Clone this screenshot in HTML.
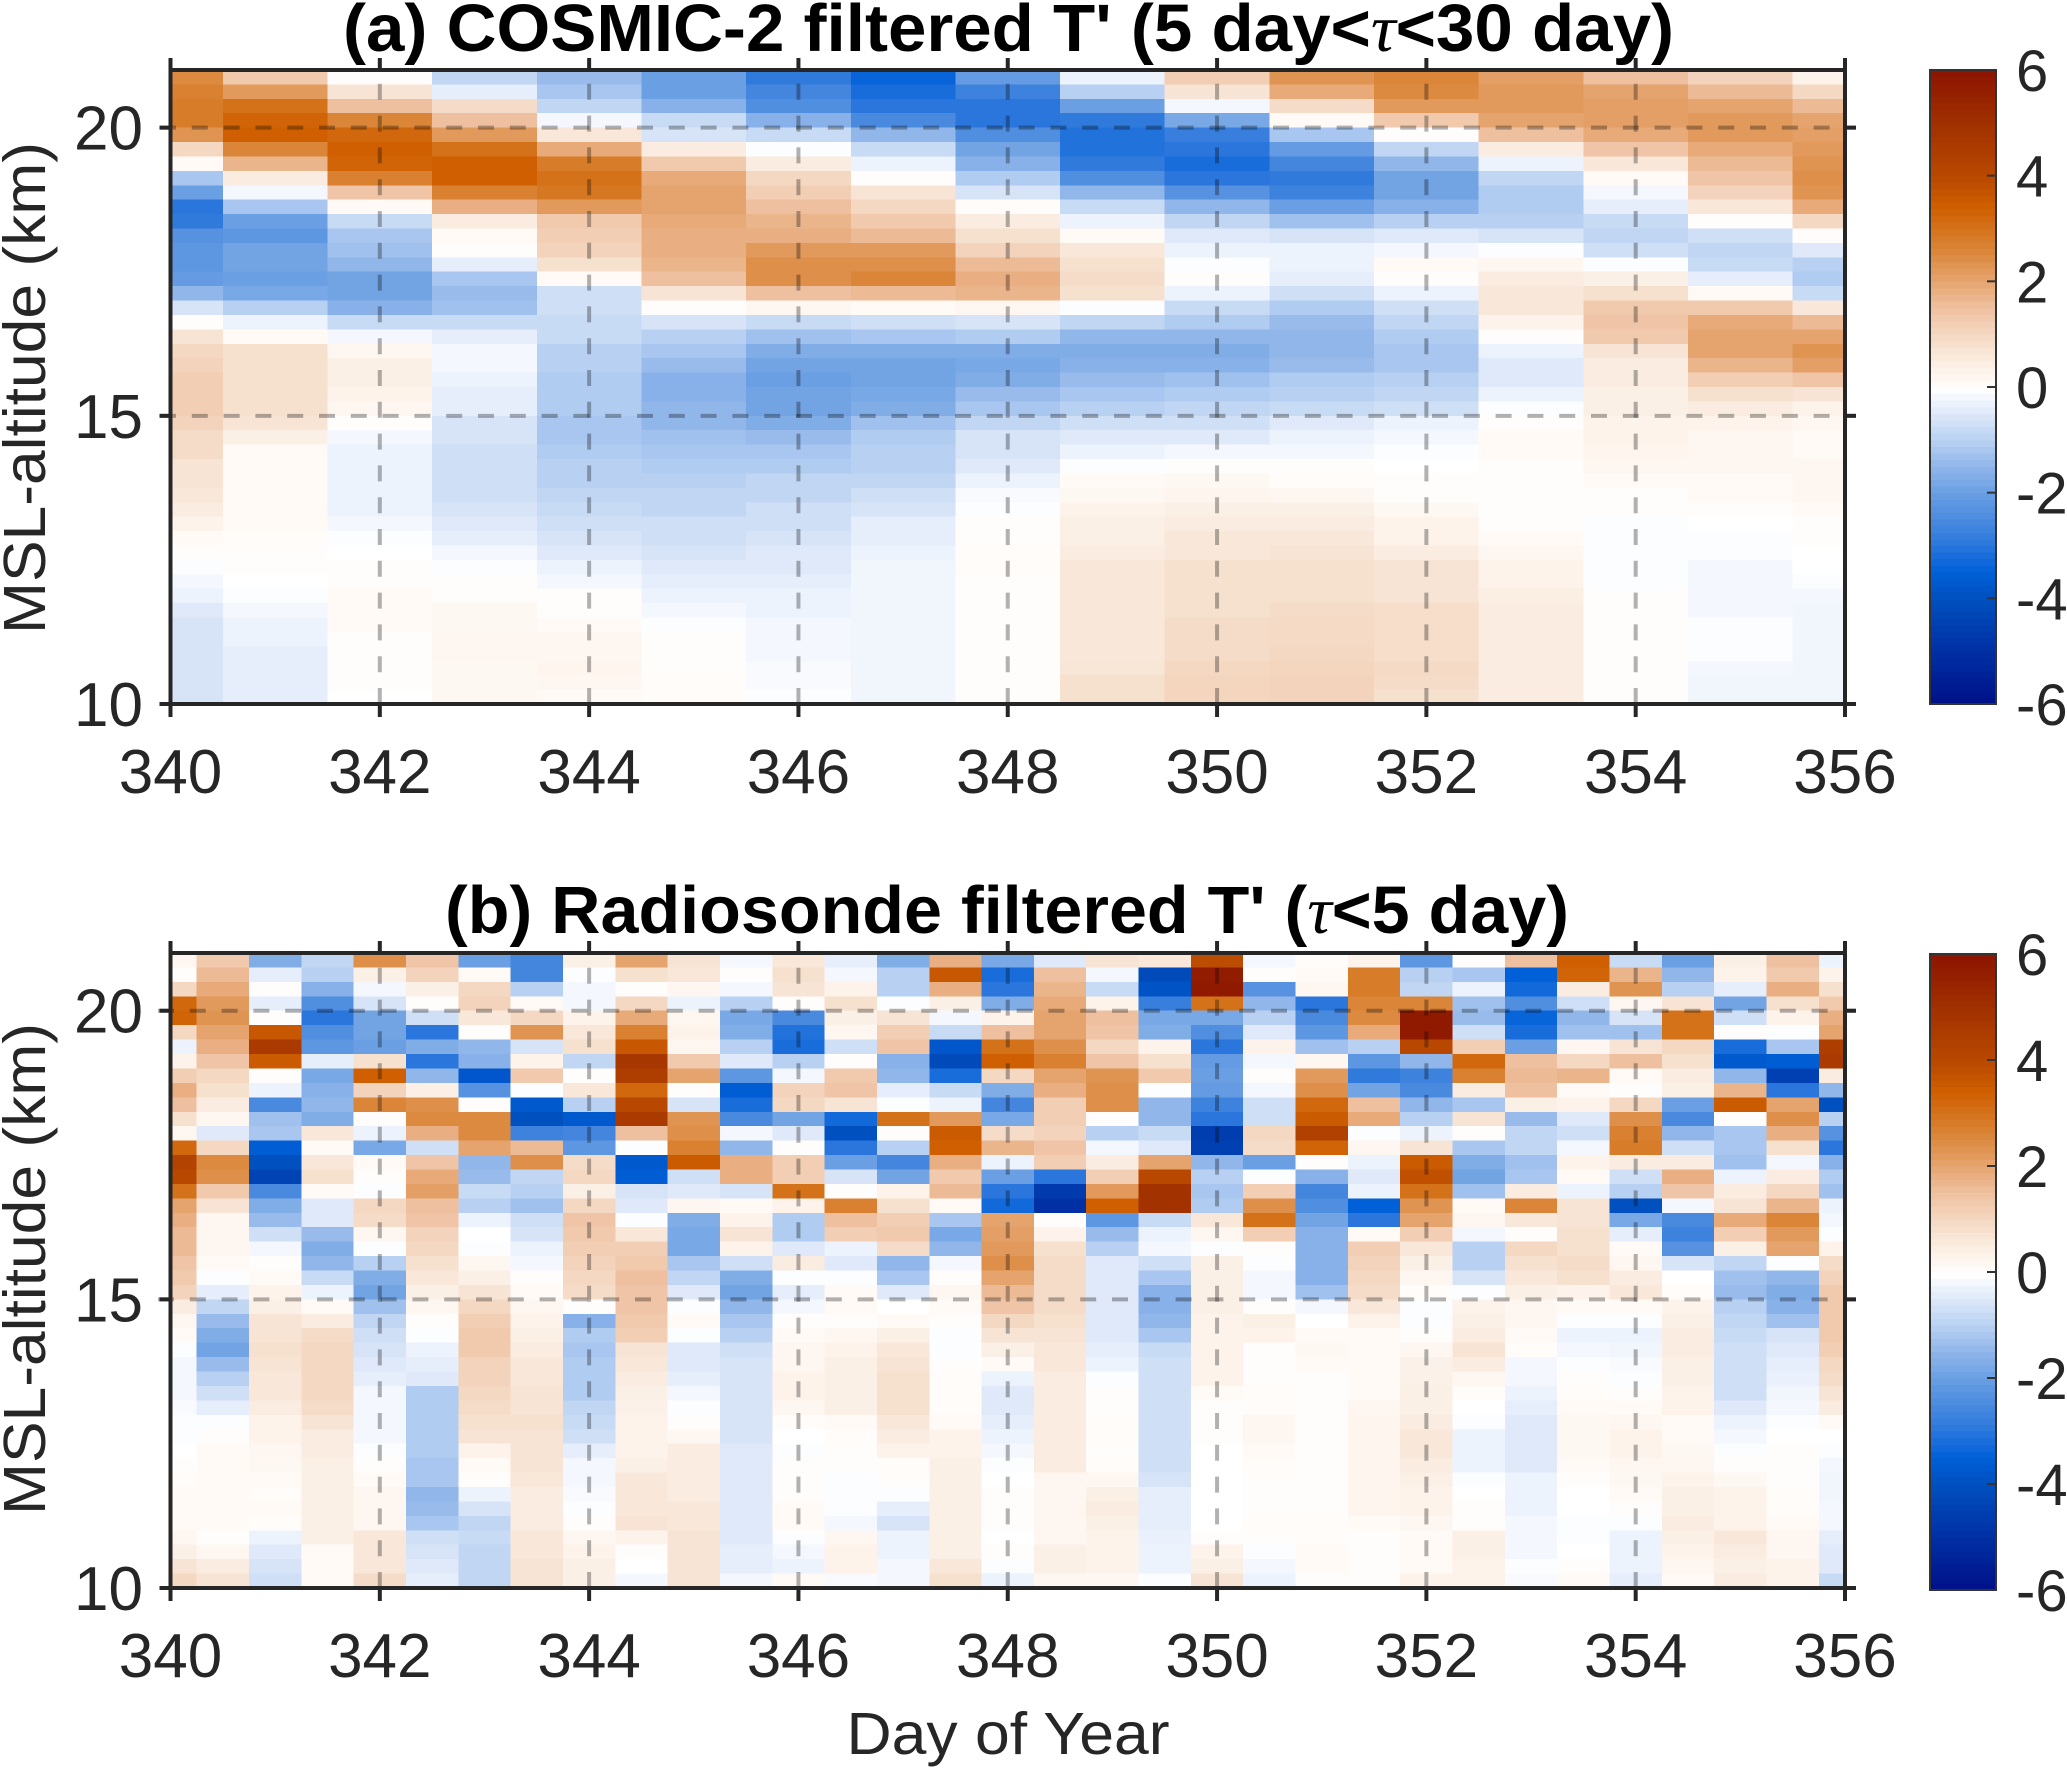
<!DOCTYPE html>
<html lang="en">
<head>
<meta charset="utf-8">
<title>COSMIC-2 and radiosonde filtered temperature perturbations</title>
<style>
html,body{margin:0;padding:0;background:#fff;width:2067px;height:1768px;overflow:hidden}
svg{display:block;font-family:"Liberation Sans",Arial,sans-serif}
</style>
</head>
<body>
<svg id="figure" xmlns="http://www.w3.org/2000/svg" width="2067" height="1768" viewBox="0 0 2067 1768">
  <g id="cells-a" shape-rendering="crispEdges"></g>
  <g id="cells-b" shape-rendering="crispEdges"></g>
  <g id="overlay"></g>
  <text x="343" y="51" font-size="67" font-weight="bold" fill="#000" textLength="1331" lengthAdjust="spacingAndGlyphs">(a) COSMIC-2 filtered T' (5 day&lt;<tspan font-family="Liberation Serif" font-style="italic" font-weight="normal">τ</tspan>&lt;30 day)</text>
  <text x="445" y="933" font-size="67" font-weight="bold" fill="#000" textLength="1124" lengthAdjust="spacingAndGlyphs">(b) Radiosonde filtered T' (<tspan font-family="Liberation Serif" font-style="italic" font-weight="normal">τ</tspan>&lt;5 day)</text>
  <text transform="translate(45,388) rotate(-90)" text-anchor="middle" font-size="59" fill="#262626" textLength="492" lengthAdjust="spacingAndGlyphs">MSL-altitude (km)</text>
  <text transform="translate(45,1269) rotate(-90)" text-anchor="middle" font-size="59" fill="#262626" textLength="492" lengthAdjust="spacingAndGlyphs">MSL-altitude (km)</text>
  <text x="1008" y="1754" text-anchor="middle" font-size="59" fill="#262626" textLength="323" lengthAdjust="spacingAndGlyphs">Day of Year</text>
</svg>
<script>
const altitudes = [20.875,20.625,20.375,20.125,19.875,19.625,19.375,19.125,18.875,18.625,18.375,18.125,17.875,17.625,17.375,17.125,16.875,16.625,16.375,16.125,15.875,15.625,15.375,15.125,14.875,14.625,14.375,14.125,13.875,13.625,13.375,13.125,12.875,12.625,12.375,12.125,11.875,11.625,11.375,11.125,10.875,10.625,10.375,10.125];
const xTicks = [340,342,344,346,348,350,352,354,356];
const yTicks = [10,15,20];
const gridDays = [342,344,346,348,350,352,354];
const gridAlts = [15,20];
const colorbarTicks = [6,4,2,0,-2,-4,-6];
const colormapValues = [-6,-5,-4,-3.5,-3,-2.5,-2,-1.5,-1,-0.5,-0.2,-0.05,0.1,0.5,1,1.5,2,2.5,3,3.4,4,5,6];
const colormapColors = ["#001088","#0030a4","#0050c0","#0060d8","#2a76dc","#4a8ade","#6a9fe3","#90b6ea","#b8d1f2","#dfe9f9","#f4f8fe","#ffffff","#fffaf6","#faece0","#f4d8c2","#efc0a0","#e5a46e","#dc8a40","#d4721a","#cf5f00","#b84800","#a03000","#8c1400"];
const daysA = [340,341,342,343,344,345,346,347,348,349,350,351,352,353,354,355,356];
const tempA = [
[2.5,2.7,2.8,2.8,2.3,1,.1,-1.2,-2,-3,-2.9,-2.3,-2.2,-2.2,-2.1,-1.5,-.6,0,.7,1,1.1,1.2,1.2,1.2,1.1,.9,.9,.7,.7,.6,.5,.3,.1,0,-.1,-.2,-.3,-.5,-.6,-.6,-.6,-.6,-.6,-.6],
[1.3,2.2,3,3.3,3.4,2.6,1.7,.5,-.2,-1.2,-2,-2.2,-1.9,-1.9,-2,-1.8,-1,-.3,.1,.8,.8,.8,.8,.8,.7,.4,.1,.1,.1,.1,.1,.1,.05,0,0,-.05,-.1,-.2,-.3,-.3,-.4,-.4,-.4,-.4],
[0,.7,1.5,2.6,3.2,3.4,3.3,2.7,1.4,.1,-.8,-1.2,-1.3,-1.5,-1.9,-1.9,-1.6,-.8,-.2,.2,.4,.4,.3,.2,0,-.2,-.3,-.3,-.3,-.3,-.3,-.2,-.1,-.05,0,0,.1,.1,.1,0,0,0,0,-.05],
[-.9,-.4,.9,1.5,2.2,3,3.4,3.4,2.7,1.8,.5,.1,0,-.4,-1.2,-1.4,-1.3,-.8,-.4,-.2,-.2,-.3,-.4,-.4,-.6,-.6,-.7,-.7,-.7,-.7,-.6,-.5,-.4,-.2,-.1,0,0,.15,.15,.2,.2,.15,.15,.15],
[-1.4,-1.2,-.9,-.2,.6,1.9,2.8,3,2.9,2.2,1.3,1.2,1.1,.8,.1,-.7,-.7,-.8,-.8,-1,-1,-1.1,-1.1,-1.1,-1.2,-1.2,-1.1,-1,-1,-.9,-.8,-.7,-.6,-.5,-.3,-.2,0,0,.1,.2,.2,.25,.2,.1],
[-2,-2,-1.6,-.8,-.6,.5,1.3,1.9,2,2,1.9,1.8,1.8,1.7,1.5,.7,0,-.6,-1,-1.2,-1.4,-1.6,-1.6,-1.5,-1.5,-1.3,-1.2,-1.1,-1,-.9,-.9,-.7,-.7,-.6,-.5,-.4,-.3,-.2,-.1,0,0,0,.03,.05],
[-2.9,-2.6,-2.4,-1.6,-.8,-.1,.5,1,1.2,1.5,1.7,1.8,2.2,2.4,2.4,1.5,.2,-.8,-1.3,-1.7,-1.9,-2,-1.9,-1.9,-1.7,-1.4,-1.2,-1.1,-.9,-.9,-.7,-.7,-.6,-.5,-.5,-.4,-.3,-.3,-.2,-.2,-.2,-.15,-.15,-.1],
[-3.4,-3.2,-3,-2.5,-1.5,-.8,-.3,0,.7,1,1.3,1.6,2.2,2.4,2.6,1.6,.1,-.7,-1.2,-1.7,-1.9,-1.9,-1.8,-1.7,-1.3,-1.1,-1,-1,-.9,-.7,-.6,-.4,-.4,-.3,-.25,-.25,-.25,-.25,-.25,-.25,-.25,-.25,-.25,-.25],
[-2.1,-2.7,-3,-3,-2.4,-1.9,-1.6,-1.1,-.6,.05,.5,.8,1.1,1.6,1.8,1.7,.2,-.6,-1.1,-1.7,-1.8,-1.7,-1.4,-1.2,-.9,-.6,-.6,-.5,-.3,-.15,-.1,0,0,.05,.05,0,0,0,0,0,0,0,0,0],
[-.3,-1,-2,-2.9,-3.1,-3.1,-2.9,-2.4,-1.5,-.8,-.3,.1,.6,.8,.9,.8,-.1,-.9,-1.5,-1.7,-1.6,-1.4,-1.2,-1,-.7,-.5,-.3,-.1,.1,.15,.3,.4,.4,.5,.6,.6,.6,.6,.6,.6,.6,.65,.8,.8],
[1.2,.7,-.2,-1.8,-2.8,-3,-3.2,-3,-2.3,-1.5,-.9,-.5,-.3,-.1,0,-.3,-.8,-1.1,-1.5,-1.7,-1.6,-1.3,-1.1,-.9,-.7,-.5,-.2,0,.15,.25,.4,.5,.6,.6,.8,.8,.8,.8,.9,.9,.9,1,1.05,1.05],
[2.3,1.9,.9,.1,-1.2,-2.1,-2.6,-2.9,-2.7,-2,-1.3,-.6,-.3,-.3,-.4,-.7,-1.1,-1.4,-1.5,-1.5,-1.4,-1.1,-1,-.8,-.5,-.3,-.2,0,.05,.2,.4,.5,.6,.7,.8,.8,.8,.9,.95,.95,1,1.05,1.1,1.1],
[2.6,2.5,2.2,1.3,0,-.9,-1.5,-1.9,-1.9,-1.6,-1,-.5,-.2,.1,0,-.3,-.7,-.9,-1.1,-1.2,-1.2,-1,-.9,-.7,-.3,-.2,-.1,-.05,0,0,.15,.3,.3,.5,.7,.7,.7,.85,.85,.85,.85,.95,.9,.8],
[2.1,2.2,2.2,2,1.5,.5,-.3,-.9,-1.1,-1.1,-1,-.6,-.1,.2,.5,.6,.6,.3,0,-.3,-.5,-.5,-.3,-.1,0,.1,.1,0,0,0,0,0,.1,.2,.3,.3,.45,.5,.5,.5,.5,.5,.5,.5],
[1.5,2,2.1,2.1,1.9,1.4,.6,.1,-.2,-.4,-.8,-.9,-.7,-.1,.4,.8,1.3,1.4,1.3,.7,.5,.5,.4,.4,.3,.3,.25,.2,.1,0,0,-.1,-.1,-.1,-.1,-.1,0,0,0,0,0,0,0,0],
[1.1,1.6,2,2.2,2.2,1.9,1.6,1.4,1.1,.6,0,-.7,-.9,-.8,-.4,.1,1.3,1.9,2,2,1.7,1.2,.8,.5,.3,.2,.2,.2,.1,.1,0,-.05,-.1,-.1,-.2,-.2,-.2,-.2,-.1,-.1,-.1,-.2,-.25,-.25],
[.3,1,1.6,2,2.1,2.2,2.3,2.4,2.3,1.9,1,0,-.5,-1,-1.1,-.8,.6,1.6,2,2.3,2.1,1.4,.7,.3,.2,.1,.1,.2,.2,.2,.1,0,0,-.05,-.05,-.1,-.2,-.25,-.25,-.25,-.25,-.25,-.25,-.25]
];
const daysB = [340,340.5,341,341.5,342,342.5,343,343.5,344,344.5,345,345.5,346,346.5,347,347.5,348,348.5,349,349.5,350,350.5,351,351.5,352,352.5,353,353.5,354,354.5,355,355.5,356];
const tempB = [
[.2,0,1,3.2,3.3,1,-.3,.3,1.2,1.8,1.5,.8,.2,3.2,4.2,4,3,2,1.8,1.6,1.6,1.4,1.3,1.1,.5,.2,.1,-.1,-.2,-.2,-.2,-.15,-.1,-.1,-.05,0,.05,.1,.1,.1,.2,.4,.7,1],
[1.3,1.6,1.9,2.2,2.3,2,1.8,1.4,1,.8,.5,.2,-.5,1,2.5,2.4,1.3,.7,.2,.2,.2,.1,-.1,-.4,-.9,-1.4,-1.7,-1.9,-1.4,-1,-.7,-.4,-.1,0,.1,.1,.1,.1,.1,.1,0,.2,.5,.7],
[-1.7,-.4,0,-.4,0,3.6,4.6,3.5,0,-.3,-2.5,-1.3,-1.2,-3.6,-4,-4.4,-2.5,-1.7,-1.4,-.7,-.2,0,.1,.3,.4,.7,.7,.8,.7,.6,.6,.5,.3,.3,.2,.15,.1,.05,.1,.05,-.3,-.5,-.6,-.7],
[-.9,-1,-1.6,-2.4,-3,-2.4,-2.2,-.4,-1.8,-1.6,-1.5,-1.7,.6,.1,.6,.8,.1,-.5,-.5,-1.4,-1.7,-1.5,-.8,-.3,.1,.5,.9,1,1,1,1,.9,.7,.5,.5,.4,.4,.4,.4,.4,.4,.1,.1,.1],
[2.4,.4,-.2,-.6,-1.9,-1.9,-2,.8,3.4,1.1,2.6,0,-.3,-1.8,.1,0,-.1,1,.9,.2,-.1,-1,-1.7,-1.9,-1.3,-.9,-.7,-.6,-.5,-.4,-.2,-.2,-.2,-.2,-.1,0,.1,.2,.2,.2,.6,.6,.6,.9],
[1.4,1.1,.4,0,-.7,-3,-1.7,-3,-1.5,.4,2.4,2.5,1.8,-.7,1.4,1.9,2.1,1.5,1.4,1.1,1,.8,.6,.4,.2,0,-.1,-.3,-.4,-.5,-1.1,-1.1,-1.1,-1.1,-1.1,-1.2,-1.2,-1.5,-1.4,-1.2,-.7,-.6,-.5,-.4],
[-2,.1,1,1.1,.6,0,-1.5,-1.6,-3.8,-2.3,0,2.5,2.5,2,-1.5,-1.4,-.8,-1,-.3,-.05,-.1,.2,.4,.7,1,1.2,1.3,1.3,1.1,1.1,1,.9,.8,.7,.3,.1,0,-.3,-.6,-.9,-.8,-.9,-.9,-.9],
[-2.6,-2.6,-1,.1,1,2.3,-.6,.3,1.3,-.1,-3.7,-4,-2.7,1.6,2.4,-.9,-1,-1.3,-.7,-.6,-.3,-.2,0,.1,.2,.3,.4,.5,.6,.6,.7,.7,.8,.7,.7,.7,.6,.5,.5,.5,.6,.6,.7,.7],
[.4,-.1,-.2,-.2,.3,.6,.8,-.9,0,.6,-1,-3.7,-2.6,-2.2,.9,1,.4,1,1.4,1.3,1.2,1.1,1,.9,0,-1.6,-1.1,-1.2,-1.1,-1.1,-1.1,-.9,-.8,-.7,-.4,-.2,-.2,-.15,-.1,0,.2,.3,.4,.4],
[2,.8,0,1,1.9,2.7,3.6,4.7,4.4,3.2,4,4.6,1.5,-.1,-3.7,-3.6,-.6,-.5,-.1,.6,1.2,1.3,1.5,1.4,1.4,1.3,1.2,.7,.6,.5,.4,.35,.3,.3,.3,.4,.6,.6,.6,.7,.3,0,-.05,-.2],
[.7,.6,.2,-.3,.2,.3,.2,1.3,2,0,-.6,2.3,2.4,2.7,3.5,-.7,-.5,.2,-1.7,-1.8,-1.8,-1.2,-.9,-.5,-.1,.1,-.1,-.5,-.5,-.4,-.2,-.1,0,.2,.5,.5,.5,.5,.6,.6,.7,.7,.7,.7],
[-.2,0,-.2,-1,-1.8,-1.7,-1,-.5,-2.2,-3.6,-3.2,-2.5,-.2,-1.5,1.8,1.8,-.6,.1,.3,.7,.3,-.7,-1.7,-1.9,-1.5,-1.2,-1,-.7,-.6,-.6,-.6,-.6,-.6,-.6,-.5,-.5,-.5,-.5,-.5,-.5,-.5,-.4,-.4,-.2],
[.6,.8,.7,0,-2.5,-3.1,-3.2,-1,-.2,1.1,1,-1.9,-.5,0,1.2,1.2,3,.3,-1.1,-1.1,-.5,.5,-.1,-.4,-.2,0,.1,.2,.2,.3,.3,.2,.05,-.05,-.1,0,0,0,.1,.1,-.1,-.2,-.3,.1],
[-.4,-.2,.3,.8,.4,.2,-.7,0,1.3,1.4,.7,-3.3,-4,-3,-2,-.6,0,2.7,1.5,1.2,-.3,-.5,-.1,.1,.1,0,.2,.3,.4,.4,.4,.4,.1,.05,0,0,-.1,-.1,-.1,-.2,.2,.3,.3,-.15],
[-1.7,-1,-1,-.1,.7,1.2,1.4,-1.6,-1.5,-.4,-.1,3,0,-1,-2.6,-1.9,.3,.8,1.2,1.3,.9,-1.5,-1.2,-.5,-.05,.1,.4,.6,.7,.8,.8,.8,.6,.5,.3,.05,0,-.1,-.4,-.6,-.3,-.3,-.2,-.2],
[1.8,3.6,1.8,.4,-.2,-.8,-3.8,-4.2,-3.2,-.8,-.3,2.2,3.5,3.4,1.8,1.3,1.6,.1,-1.2,-1.8,-1.5,-.2,0,.2,.1,0,-.1,-.1,0,.05,.05,.05,.1,.3,.3,.4,.4,.4,.4,.4,.4,.4,.6,.8],
[-1.8,-3.2,-3,-1.7,.3,1.5,3,3.4,1,-1.7,-2.6,-1.8,.9,1.7,-.3,-2,-3,-3.3,2,2.1,2.2,2.4,2,1.6,1.4,1,.7,.4,.1,-.3,-.5,-.5,-.4,-.3,-.2,-.1,-.05,0,0,0,-.05,0,-.1,-.3],
[-.5,1.5,1.7,1.9,2,2,2.4,2.7,2,1.8,1.2,1.2,1.1,1.4,1.2,-3,-4.7,-5,0,.3,.8,.9,.9,.9,.9,.8,.7,.6,.6,.5,.5,.5,.5,.5,.5,.5,.2,.2,.2,.2,.2,.4,.4,.2],
[.7,-.2,-.8,.3,1.5,1.4,1,1.4,2.3,2.4,2.4,0,-1,-.2,.5,1.2,2.2,3.4,-2.2,-1.4,-1,-.5,-.5,-.5,-.5,-.5,-.5,-.4,-.3,-.1,0,0,.05,.05,0,.05,.2,.4,.5,.4,.3,.3,.3,.2],
[.6,-4.2,-3.9,-2.8,-1.8,-1.7,.3,.8,1.3,-.1,-1.5,-1.5,-.8,-.5,2,4,4.9,4.9,-.8,-.3,-.2,-.7,-1.2,-1.6,-1.6,-1.5,-1.2,-.8,-.7,-.7,-.7,-.7,-.7,-.7,-.7,-.7,-.6,-.4,-.4,-.4,-.35,-.3,-.3,-.1],
[3.9,5.7,5.8,3,-1.8,-2.4,-3,-2.1,-2,-2.1,-2.7,-3,-4.6,-4.5,-1.5,-1,-1.2,-1.1,.6,.2,-.1,.4,.4,.4,.4,.3,.3,.3,.3,.3,.1,0,0,0,-.05,-.05,-.05,-.05,-.05,-.05,0,.3,.4,.7],
[-.2,0,-2.3,-1.5,-1,-.5,.3,-.2,0,-.2,-.7,-.7,1,.9,-2,-.1,1.2,2.4,3,1.2,0,-.1,-.2,-.2,0,.4,.3,0,0,0,.05,.05,.2,.2,.1,.05,0,0,0,.05,0,-.1,-.2,-.3],
[.05,.1,.2,-3,-2.5,-2.2,-1.3,.2,2.2,2.4,3.2,3.5,4.3,3.3,0,-1.6,-2.6,-2.4,-1.9,-1.6,-1.6,-1.6,-1.6,-1.3,-.2,-.05,.1,.15,.1,0,0,0,0,0,0,0,0,0,0,.05,.05,.1,.1,0],
[.3,2.8,2.8,2.6,2.5,1.9,-1,-2.2,-2.9,-1.9,1.5,1.9,-.1,.2,-.3,-.5,-.3,-3.5,-3,.1,1.2,1.1,1,.9,.6,.3,.1,.1,.1,.1,.1,.2,.25,.25,.25,.25,.25,.25,.25,.1,0,0,0,0],
[-2.2,-1,-.9,2.6,5.8,5.8,4,-1.5,-2.7,-2.5,-1.5,-1,-.3,.7,3.5,3.8,3,2.3,2,1.2,.6,.4,.2,.05,-.1,-.1,0,.2,.35,.35,.4,.4,.5,.6,.6,.5,.4,.3,.3,.2,.1,.1,.1,.3],
[0,-1.2,-.3,-1.3,-1.4,-.7,1.2,3.2,2.7,.5,-1.2,.7,0,-1.2,-1.7,-1.9,-1.3,.1,.2,-.2,-1,-1,-.6,-.1,.3,.4,.5,.7,.5,.2,.05,-.05,-.1,-.3,-.3,-.3,-.1,-.05,0,0,.4,.4,.3,.3],
[1.5,-3.5,-3.3,-2.4,-3.4,-3.2,-2,1.5,1.6,1.5,.4,-1.4,-.9,-.9,-1.3,-1.2,.5,2.6,.6,0,1,.8,.6,.4,.2,.2,.1,.05,-.2,-.2,-.3,-.4,-.5,-.5,-.5,-.5,-.3,-.3,-.3,-.2,-.2,-.2,-.1,-.15],
[3.4,3.3,.5,-.7,-1.5,-1.3,.2,1,1.7,.1,.3,-.5,-.7,-.2,.3,.1,-.3,.7,.7,.8,.8,.9,.8,.3,.1,-.1,-.3,-.2,-.1,0,.05,.1,.15,.15,.15,.1,0,-.05,-.05,-.1,-.1,-.05,0,.1],
[-.8,1.7,2.3,.2,-.6,-1.3,.7,1.5,.1,0,1,2.4,2.7,2.8,.5,-.7,-1,-4,-1.8,-.4,.1,.2,.5,.6,.1,-.1,-.3,-.25,-.15,-.1,0,.1,.2,.3,.3,.2,.15,.1,0,-.1,-.3,-.3,-.3,-.4],
[-2,-1.5,-1,.7,3,3,1,.8,.5,.4,-2,-2.5,-1.5,-.7,.5,1.8,1.4,-.2,-2.5,-2.7,-2.3,-.6,-.05,.05,.3,.4,.5,.5,.4,.4,.3,.3,.1,.1,.15,.2,.3,.4,.4,.5,.4,.3,.2,.1],
[.4,.3,-.4,-1.9,-.7,0,-3.2,-3.7,-1.5,1.7,3.5,0,-1.2,-1.2,-1.3,-.3,.5,.7,1.9,1.2,.4,-.9,-1.3,-1.4,-1,-.9,-.8,-.7,-.7,-.7,-.7,-.5,-.3,-.2,-.1,0,.15,.3,.3,.3,.6,.5,.4,.5],
[1.5,1.3,1.8,.8,.3,-.1,-1.2,-3.6,-4.5,-3,2,2.4,1.8,.8,-.2,.5,1,1.7,2.6,2.2,2,-.1,-1.5,-1.7,-1.6,-1.3,-.6,-.5,-.4,-.35,-.25,-.2,-.1,-.05,0,0,0,.05,.05,.1,.2,.2,.3,.3],
[-.3,.3,.8,1.3,1.8,2,4.4,4.6,.5,-1.5,-4,-1,-2.3,-3,-1.6,-1.1,-1.3,-.3,-.2,-.1,.3,.9,1.1,1.3,1.3,1.3,1.3,1.2,1,.9,.7,.5,.1,-.05,-.1,-.2,-.25,-.25,-.2,-.2,-.4,-.5,-.5,-.8]
];

const SVGNS = "http://www.w3.org/2000/svg";
const plotLeft = 170.5, plotRight = 1845, xMin = 340, xMax = 356, altMin = 10, altMax = 21;
const panelA = {top:70, bottom:704, hOrigin:160, cbTop:70, cbBottom:704};
const panelB = {top:953, bottom:1588, hOrigin:158, cbTop:954, cbBottom:1590};
const cbLeft = 1930, cbRight = 1996;

function xScale(day){ return plotLeft + (day - xMin) * (plotRight - plotLeft) / (xMax - xMin); }
function yScale(panel, alt){ return panel.bottom - (alt - altMin) * (panel.bottom - panel.top) / (altMax - altMin); }
function cbScale(panel, v){ return panel.cbBottom - (v + 6) * (panel.cbBottom - panel.cbTop) / 12; }
function hexToRgb(h){ return [parseInt(h.slice(1,3),16),parseInt(h.slice(3,5),16),parseInt(h.slice(5,7),16)]; }
function colorFor(v){
  const c = Math.max(-6, Math.min(6, v));
  for (let i = 0; i < colormapValues.length - 1; i++) {
    if (c <= colormapValues[i + 1]) {
      const t = (c - colormapValues[i]) / (colormapValues[i + 1] - colormapValues[i]);
      const a = hexToRgb(colormapColors[i]), b = hexToRgb(colormapColors[i + 1]);
      return "rgb(" + a.map((x, k) => Math.round(x + (b[k] - x) * t)).join(",") + ")";
    }
  }
  return colormapColors[colormapColors.length - 1];
}
function make(tag, parent, attrs){
  const el = document.createElementNS(SVGNS, tag);
  for (const k in attrs) el.setAttribute(k, attrs[k]);
  parent.appendChild(el);
  return el;
}
function drawHeatmap(group, panel, days, temps, width){
  days.forEach((day, c) => {
    const x0 = xScale(Math.max(xMin, day - width / 2));
    const x1 = xScale(Math.min(xMax, day + width / 2));
    altitudes.forEach((alt, r) => {
      const yTop = yScale(panel, alt + 0.125);
      const yBot = yScale(panel, alt - 0.125);
      const cell = make("rect", group, {x:x0, y:yTop, width:x1 - x0, height:yBot - yTop, fill:colorFor(temps[c][r])});
      
      
    });
  });
}
function drawAxes(root, panel, key){
  const dash = {fill:"none", stroke:"rgba(0,0,0,0.3)", "stroke-width":4, "stroke-dasharray":"16 15.8"};
  gridDays.forEach(d => {
    const line = make("line", root, Object.assign({x1:xScale(d), x2:xScale(d), y1:panel.bottom, y2:panel.top}, dash));
    
    
  });
  gridAlts.forEach(a => {
    const line = make("line", root, Object.assign({x1:panel.hOrigin, x2:plotRight + 10, y1:yScale(panel, a), y2:yScale(panel, a)}, dash));
    
    
  });
  const frame = make("rect", root, {x:plotLeft, y:panel.top, width:plotRight - plotLeft, height:panel.bottom - panel.top, fill:"none", stroke:"#262626", "stroke-width":4});
  
  
  xTicks.forEach(d => {
    const x = xScale(d);
    const bottomTick = make("line", root, {x1:x, x2:x, y1:panel.bottom, y2:panel.bottom + 13, stroke:"#262626", "stroke-width":4});
    
    
    const topTick = make("line", root, {x1:x, x2:x, y1:panel.top, y2:panel.top - 12, stroke:"#262626", "stroke-width":4});
    
    
    const label = make("text", root, {x:x, y:panel.bottom + 89, "text-anchor":"middle", "font-size":62, fill:"#262626"});
    
    
    label.textContent = String(d);
  });
  yTicks.forEach(a => {
    const y = yScale(panel, a);
    const leftTick = make("line", root, {x1:plotLeft - 11, x2:plotLeft, y1:y, y2:y, stroke:"#262626", "stroke-width":4});
    
    
    const rightTick = make("line", root, {x1:plotRight, x2:plotRight + 11, y1:y, y2:y, stroke:"#262626", "stroke-width":4});
    
    
    const label = make("text", root, {x:143, y:y + 22, "text-anchor":"end", "font-size":62, fill:"#262626"});
    
    
    label.textContent = String(a);
  });
}
function drawColorbar(root, panel, key){
  const steps = 96;
  for (let i = 0; i < steps; i++) {
    const lo = -6 + 12 * i / steps, hi = -6 + 12 * (i + 1) / steps;
    const seg = make("rect", root, {x:cbLeft, y:cbScale(panel, hi), width:cbRight - cbLeft, height:cbScale(panel, lo) - cbScale(panel, hi) + 0.5, fill:colorFor((lo + hi) / 2), "shape-rendering":"crispEdges"});
    
    
  }
  const frame = make("rect", root, {x:cbLeft, y:panel.cbTop, width:cbRight - cbLeft, height:panel.cbBottom - panel.cbTop, fill:"none", stroke:"#333", "stroke-width":2});
  
  
  colorbarTicks.forEach(v => {
    const y = cbScale(panel, v);
    if (v !== 6 && v !== -6) {
      const tick = make("line", root, {x1:cbRight - 9, x2:cbRight, y1:y, y2:y, stroke:"#333", "stroke-width":2});
      
      
    }
    const label = make("text", root, {x:2016, y:y + 21, "font-size":58, fill:"#262626"});
    
    
    label.textContent = String(v);
  });
}
drawHeatmap(document.getElementById("cells-a"), panelA, daysA, tempA, 1);
drawHeatmap(document.getElementById("cells-b"), panelB, daysB, tempB, 0.5);
const overlay = document.getElementById("overlay");
drawAxes(overlay, panelA, "cosmic");
drawAxes(overlay, panelB, "radiosonde");
drawColorbar(overlay, panelA, "cosmic");
drawColorbar(overlay, panelB, "radiosonde");
</script>
</body>
</html>
